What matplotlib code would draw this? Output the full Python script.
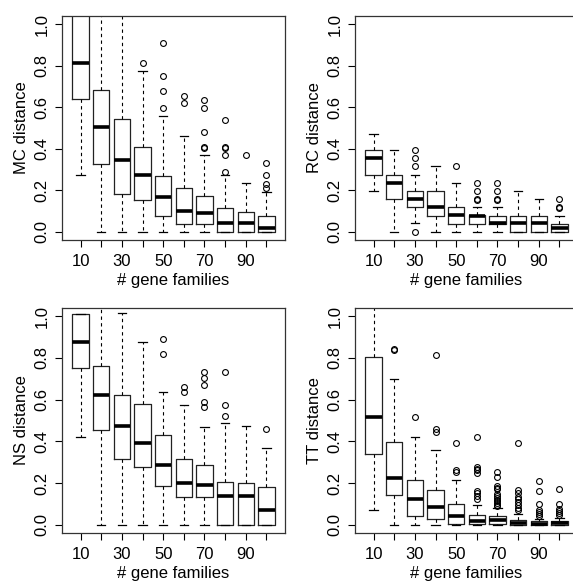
import matplotlib
matplotlib.use("Agg")
import matplotlib.pyplot as plt

plt.rcParams['font.family'] = ['Liberation Sans', 'DejaVu Sans']

n_families = [10, 20, 30, 40, 50, 60, 70, 80, 90, 100]

# MC distance
mc_q1 = [0.640, 0.327, 0.184, 0.153, 0.076, 0.037, 0.037, 0.0, 0.0, 0.0]
mc_med = [0.811, 0.503, 0.347, 0.271, 0.165, 0.098, 0.089, 0.040, 0.040, 0.019]
mc_q3 = [1.10, 0.685, 0.544, 0.406, 0.269, 0.210, 0.173, 0.115, 0.095, 0.076]
mc_lo = [0.271, 0.0, 0.0, 0.0, 0.0, 0.0, 0.0, 0.0, 0.0, 0.0]
mc_hi = [1.30, 1.10, 1.10, 0.774, 0.560, 0.463, 0.368, 0.271, 0.234, 0.190]
mc_out = [[], [], [], [0.813], [0.910, 0.753, 0.676, 0.598], [0.656, 0.619],
          [0.637, 0.598, 0.482, 0.410, 0.405], [0.540, 0.410, 0.405, 0.368, 0.290],
          [0.368], [0.329, 0.271, 0.232, 0.213]]

# RC distance
rc_q1 = [0.275, 0.156, 0.119, 0.076, 0.037, 0.037, 0.037, 0.0, 0.0, 0.0]
rc_med = [0.355, 0.237, 0.156, 0.118, 0.081, 0.076, 0.044, 0.044, 0.044, 0.019]
rc_q3 = [0.392, 0.274, 0.194, 0.194, 0.118, 0.081, 0.076, 0.076, 0.076, 0.037]
rc_lo = [0.198, 0.0, 0.042, 0.0, 0.0, 0.0, 0.0, 0.0, 0.0, 0.0]
rc_hi = [0.471, 0.392, 0.274, 0.315, 0.237, 0.118, 0.118, 0.194, 0.156, 0.076]
rc_out = [[], [], [0.395, 0.355, 0.315, 0.0], [], [0.315], [0.237, 0.194, 0.156, 0.153],
          [0.237, 0.194, 0.156, 0.153], [], [], [0.156, 0.118, 0.114]]

# NS distance
ns_q1 = [0.751, 0.453, 0.317, 0.277, 0.185, 0.133, 0.133, 0.0, 0.0, 0.0]
ns_med = [0.876, 0.622, 0.474, 0.391, 0.285, 0.201, 0.188, 0.137, 0.137, 0.069]
ns_q3 = [1.013, 0.760, 0.622, 0.579, 0.429, 0.317, 0.285, 0.204, 0.201, 0.180]
ns_lo = [0.421, 0.0, 0.0, 0.0, 0.0, 0.0, 0.0, 0.0, 0.0, 0.0]
ns_hi = [1.013, 1.10, 1.016, 0.876, 0.638, 0.574, 0.469, 0.486, 0.474, 0.367]
ns_out = [[], [], [], [], [0.889, 0.818], [0.659, 0.638],
          [0.732, 0.703, 0.672, 0.587, 0.566], [0.735, 0.574, 0.523], [], [0.461]]

# TT distance
tt_q1 = [0.338, 0.140, 0.040, 0.027, 0.005, 0.005, 0.005, 0.0, 0.0, 0.0]
tt_med = [0.519, 0.225, 0.121, 0.083, 0.043, 0.020, 0.021, 0.008, 0.005, 0.008]
tt_q3 = [0.804, 0.397, 0.212, 0.165, 0.100, 0.048, 0.040, 0.024, 0.016, 0.016]
tt_lo = [0.072, 0.0, 0.0, 0.0, 0.0, 0.0, 0.0, 0.0, 0.0, 0.0]
tt_hi = [1.10, 0.699, 0.421, 0.357, 0.214, 0.093, 0.080, 0.053, 0.027, 0.032]
tt_out = [[], [0.845, 0.838], [0.518], [0.815, 0.458, 0.445], [0.394, 0.262, 0.254],
          [0.423, 0.276, 0.268, 0.260, 0.249, 0.161, 0.150, 0.137, 0.121],
          [0.254, 0.230, 0.185, 0.177, 0.169, 0.145, 0.137, 0.128, 0.120, 0.112, 0.104, 0.096, 0.088],
          [0.391, 0.164, 0.150, 0.134, 0.121, 0.108, 0.092, 0.080, 0.068],
          [0.209, 0.161, 0.101, 0.069, 0.060, 0.052, 0.040],
          [0.169, 0.100, 0.076, 0.064, 0.056, 0.048]]

panels = [
    ("MC distance", mc_q1, mc_med, mc_q3, mc_lo, mc_hi, mc_out),
    ("RC distance", rc_q1, rc_med, rc_q3, rc_lo, rc_hi, rc_out),
    ("NS distance", ns_q1, ns_med, ns_q3, ns_lo, ns_hi, ns_out),
    ("TT distance", tt_q1, tt_med, tt_q3, tt_lo, tt_hi, tt_out),
]

W, H = 573, 583
fig = plt.figure(figsize=(W / 100, H / 100), dpi=100)

# axes frames in pixels: left, top, width, height (right column runs off the page)
frames = [(62, 16, 223, 224), (355, 16, 223, 224),
          (62, 308, 223, 225), (355, 308, 223, 225)]

for (ylab, q1, med, q3, lo, hi, out), (l, t, w, h) in zip(panels, frames):
    ax = fig.add_axes([l / W, 1 - (t + h) / H, w / W, h / H])
    stats = []
    for i in range(len(n_families)):
        stats.append(dict(q1=q1[i], med=med[i], q3=q3[i],
                          whislo=lo[i], whishi=hi[i], fliers=out[i]))
    pos = list(range(1, len(n_families) + 1))
    ax.bxp(stats, positions=pos, widths=0.8, capwidths=0.4,
           boxprops=dict(color='#222222', linewidth=0.9),
           medianprops=dict(color='black', linewidth=2.6),
           whiskerprops=dict(color='black', linewidth=0.8, linestyle=(0, (3, 3))),
           capprops=dict(color='black', linewidth=0.9),
           flierprops=dict(marker='o', markersize=4.2, markerfacecolor='none',
                           markeredgecolor='black', markeredgewidth=0.8))
    ax.set_xlim(0.1, 10.9)
    ax.set_ylim(-0.04, 1.04)
    ax.set_xticks(pos)
    ax.set_xticklabels([str(v) if k % 2 == 0 else '' for k, v in enumerate(n_families)])
    ax.set_yticks([0.0, 0.2, 0.4, 0.6, 0.8, 1.0])
    ax.set_yticklabels(['0.0', '0.2', '0.4', '0.6', '0.8', '1.0'],
                       rotation=90, va='center')
    ax.tick_params(length=5, width=0.8, labelsize=12, pad=4)
    ax.tick_params(axis='x', pad=5)
    ax.set_xlabel('# gene families', fontsize=12, labelpad=3)
    ax.set_ylabel(ylab, fontsize=12, labelpad=4)
    for s in ax.spines.values():
        s.set_linewidth(0.9)
        s.set_color('#333333')

fig.savefig('out.png', dpi=100)
